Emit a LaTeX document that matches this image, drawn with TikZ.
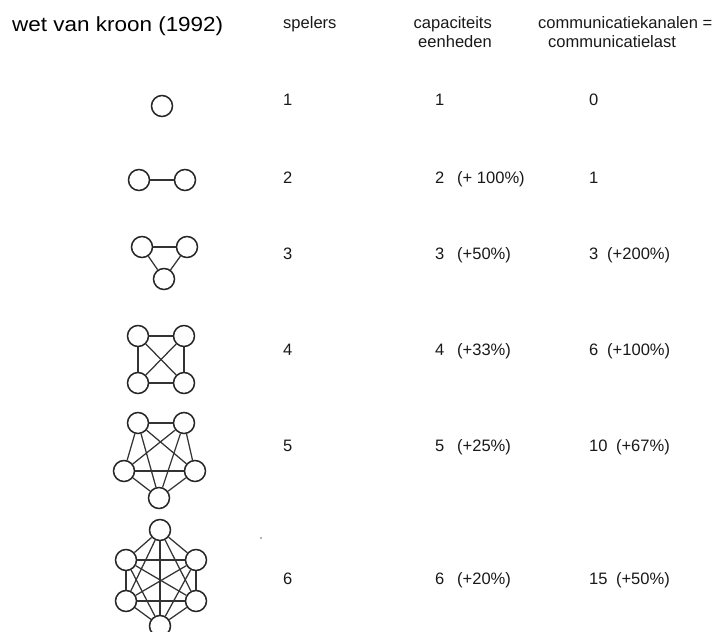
\documentclass[tikz,border=0pt]{standalone}
\usepackage{fontspec}
\setmainfont{Liberation Sans}
\begin{document}
\begin{tikzpicture}[x=1bp,y=-1bp,
  v/.style={circle,draw=black!85,line width=1.5bp,fill=white,minimum size=21bp,inner sep=0},
  e/.style={draw=black!80,line width=1.25bp},
  txt/.style={anchor=base west,inner sep=0,font=\fontsize{16.6}{19}\selectfont,text=black!90},
  hdr/.style={txt},
  hdrr/.style={txt,anchor=base east}]
\useasboundingbox (0,0) rectangle (713,632);
% headers
\node[txt,anchor=base west,text=black] (title) at (12,32) {\scalebox{1.1}[1]{\fontsize{20.5}{24}\selectfont wet van kroon (1992)}};
\node[hdr] (hs) at (283,29) {spelers};
\node[hdrr] (hc1) at (492,29) {capaciteits};
\node[hdrr] (hc2) at (492,48) {eenheden};
\node[hdr] (hk1) at (538,29) {communicatiekanalen =};
\node[hdr] (hk2) at (548,48) {communicatielast};
% rows
\node[txt] (s1) at (283,106) {1};
\node[txt] (c1) at (435,106) {1};
\node[txt] (k1) at (589,106) {0};
\node[txt] (s2) at (283,184) {2};
\node[txt] (c2) at (435,184) {2\hspace{12.8bp}(+ 100\%)};
\node[txt] (k2) at (589,184) {1};
\node[txt] (s3) at (283,259) {3};
\node[txt] (c3) at (435,259) {3\hspace{12.8bp}(+50\%)};
\node[txt] (k3) at (589,259) {3\hspace{8.8bp}(+200\%)};
\node[txt] (s4) at (283,355) {4};
\node[txt] (c4) at (435,355) {4\hspace{12.8bp}(+33\%)};
\node[txt] (k4) at (589,355) {6\hspace{8.8bp}(+100\%)};
\node[txt] (s5) at (283,451) {5};
\node[txt] (c5) at (435,451) {5\hspace{12.8bp}(+25\%)};
\node[txt] (k5) at (589,451) {10\hspace{8.5bp}(+67\%)};
\node[txt] (s6) at (283,584) {6};
\node[txt] (c6) at (435,584) {6\hspace{12.8bp}(+20\%)};
\node[txt] (k6) at (589,584) {15\hspace{8.5bp}(+50\%)};
% stray dot
\fill[black!60] (261,538) circle (0.8);
% graph 1
\node[v] (a1) at (162,106) {};
% graph 2
\node[v] (b1) at (139,180) {};
\node[v] (b2) at (185,180) {};
\draw[e] (b1) -- (b2);
% graph 3
\node[v] (t1) at (142,247) {};
\node[v] (t2) at (187,247) {};
\node[v] (t3) at (164,279) {};
\foreach \a/\b in {t1/t2,t1/t3,t2/t3} \draw[e] (\a) -- (\b);
% graph 4
\node[v] (q1) at (138,336) {};
\node[v] (q2) at (184,336) {};
\node[v] (q3) at (138,383) {};
\node[v] (q4) at (184,383) {};
\foreach \a/\b in {q1/q2,q1/q3,q1/q4,q2/q3,q2/q4,q3/q4} \draw[e] (\a) -- (\b);
% graph 5
\node[v] (p1) at (138,423) {};
\node[v] (p2) at (184,423) {};
\node[v] (p3) at (124,471) {};
\node[v] (p4) at (195,471) {};
\node[v] (p5) at (159,498) {};
\foreach \a/\b in {p1/p2,p1/p3,p1/p4,p1/p5,p2/p3,p2/p4,p2/p5,p3/p4,p3/p5,p4/p5} \draw[e] (\a) -- (\b);
% graph 6
\node[v] (h1) at (160,530) {};
\node[v] (h2) at (126,560) {};
\node[v] (h3) at (196,560) {};
\node[v] (h4) at (126,601) {};
\node[v] (h5) at (196,601) {};
\node[v] (h6) at (160,626) {};
\foreach \a/\b in {h1/h2,h1/h3,h1/h4,h1/h5,h1/h6,h2/h3,h2/h4,h2/h5,h2/h6,h3/h4,h3/h5,h3/h6,h4/h5,h4/h6,h5/h6} \draw[e] (\a) -- (\b);
\end{tikzpicture}
\end{document}
